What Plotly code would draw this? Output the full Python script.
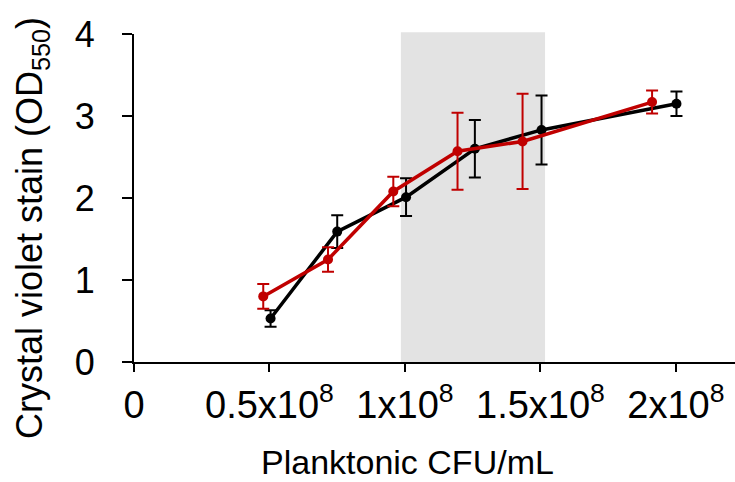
import plotly.graph_objects as go

# Data (x in CFU/mL)
black_x = [0.504e8, 0.75e8, 1.004e8, 1.258e8, 1.504e8, 2.002e8]
black_y = [0.53, 1.59, 2.01, 2.60, 2.83, 3.15]
black_err = [0.10, 0.20, 0.23, 0.35, 0.42, 0.15]

red_x = [0.477e8, 0.716e8, 0.957e8, 1.194e8, 1.434e8, 1.912e8]
red_y = [0.80, 1.25, 2.08, 2.57, 2.69, 3.17]
red_err = [0.15, 0.15, 0.18, 0.47, 0.58, 0.14]

x_tickvals = [0, 0.5e8, 1e8, 1.5e8, 2e8]
x_ticktext = ["0", "0.5x10<sup>8</sup>", "1x10<sup>8</sup>", "1.5x10<sup>8</sup>", "2x10<sup>8</sup>"]
y_tickvals = [0, 1, 2, 3, 4]

shade_x = [0.985e8, 1.517e8]

RED = "#C00000"
FONT = "Liberation Sans, Arial, sans-serif"

fig = go.Figure()

fig.add_trace(go.Scatter(
    x=black_x, y=black_y, mode="lines+markers",
    line=dict(color="black", width=3.5),
    marker=dict(color="black", size=10),
    error_y=dict(type="data", array=black_err, color="black", thickness=2, width=6),
    showlegend=False,
))
fig.add_trace(go.Scatter(
    x=red_x, y=red_y, mode="lines+markers",
    line=dict(color=RED, width=3.5),
    marker=dict(color=RED, size=10),
    error_y=dict(type="data", array=red_err, color=RED, thickness=2, width=6),
    showlegend=False,
))

fig.add_shape(type="rect", xref="x", yref="paper", x0=shade_x[0], x1=shade_x[1],
              y0=0, y1=1.005, fillcolor="#E3E3E3", line=dict(width=0), layer="below")

fig.update_layout(
    width=735, height=482,
    margin=dict(l=134, r=0, t=34, b=120, autoexpand=False),
    paper_bgcolor="white", plot_bgcolor="white",
    font=dict(family=FONT, color="black"),
    xaxis=dict(
        range=[0, 2.218e8], tickvals=x_tickvals, ticktext=x_ticktext,
        showgrid=False, zeroline=False, showline=True, linecolor="black", linewidth=2,
        ticks="outside", ticklen=8, tickwidth=2, tickcolor="black",
        tickfont=dict(size=38, family=FONT, color="black"),
        ticklabelstandoff=0, automargin=False,
    ),
    yaxis=dict(
        range=[0, 4], tickvals=y_tickvals,
        showgrid=False, zeroline=False, showline=True, linecolor="black", linewidth=2,
        ticks="outside", ticklen=10, tickwidth=2, tickcolor="black",
        tickfont=dict(size=36, family=FONT, color="black"),
        ticklabelstandoff=20, automargin=False,
    ),
    annotations=[
        dict(text="Planktonic CFU/mL", xref="paper", yref="paper",
             x=(407 - 134) / 601, y=-(462 - 362) / 328, xanchor="center", yanchor="middle",
             showarrow=False, font=dict(size=34, family=FONT, color="black")),
        dict(text="Crystal violet stain (OD<sub>550</sub>)", xref="paper", yref="paper",
             x=-(134 - 32) / 601, y=(362 - 228) / 328, xanchor="center", yanchor="middle",
             textangle=-90, showarrow=False, font=dict(size=36, family=FONT, color="black")),
    ],
)

fig.write_html("out.html", config={"displayModeBar": False},
               post_script="document.body.style.margin='0px';")
